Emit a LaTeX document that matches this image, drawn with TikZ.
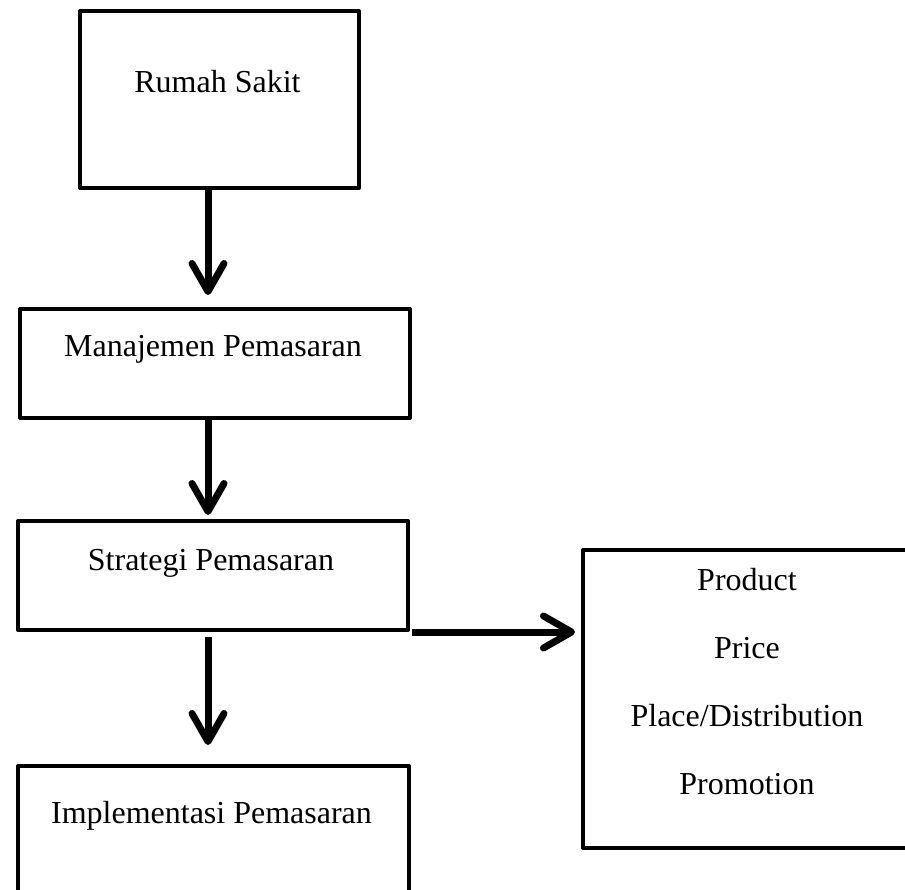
\documentclass[tikz,border=0pt]{standalone}
\usepackage{fontspec}
\setmainfont{Liberation Serif}
\usetikzlibrary{arrows.meta,calc}
\begin{document}
\begin{tikzpicture}[x=1pt,y=-1pt,
  box/.style={draw, line width=4pt, line join=round, rectangle, inner sep=0pt, anchor=north west},
  lbl/.style={font=\fontsize{32}{38}\selectfont, anchor=base, inner sep=0pt},
  arr/.style={line width=7pt, -{Straight Barb[length=28pt,width=32pt,round]}}]
\path[use as bounding box, clip] (0,0) rectangle (905,890);
\fill[white] (0,0) rectangle (905,890);
% boxes
\node[box, minimum width=279pt, minimum height=177pt] (b1) at (78,9) {};
\node[box, minimum width=390pt, minimum height=109pt] (b2) at (18,307) {};
\node[box, minimum width=390pt, minimum height=109pt] (b3) at (16,519) {};
\node[box, minimum width=391pt, minimum height=136pt] (b4) at (16,764) {};
\node[box, minimum width=332pt, minimum height=298pt] (b5) at (581,548) {};
% texts
\node[lbl] (t1) at (217.5,93) {Rumah Sakit};
\node[lbl] (t2) at (213,357) {Manajemen Pemasaran};
\node[lbl] (t3) at (211,570) {Strategi Pemasaran};
\node[lbl] (t4) at (211.5,823) {Implementasi Pemasaran};
\node[lbl] (p1) at (747,590) {Product};
\node[lbl] (p2) at (747,658) {Price};
\node[lbl] (p3) at (747,726) {Place/Distribution};
\node[lbl] (p4) at (747,794) {Promotion};
% arrows
\coordinate (ax) at (208,0);
\draw[arr] (b1.south -| ax) -- ($(b2.north -| ax)+(0,-12)$);
\draw[arr] (b2.south -| ax) -- ($(b3.north -| ax)+(0,-4)$);
\draw[arr] ($(b3.south -| ax)+(0,5)$) -- ($(b4.north -| ax)+(0,-19)$);
\draw[arr] ($(b3.south east)+(2,0)$) -- ($(b3.south east -| b5.west)+(-6,0)$);
\end{tikzpicture}
\end{document}
